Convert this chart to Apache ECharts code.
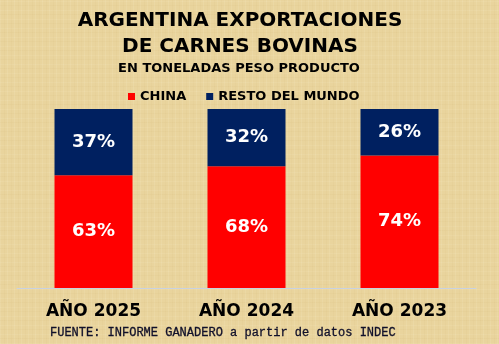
<!DOCTYPE html>
<html>
<head>
<meta charset="utf-8">
<script src="https://cdn.jsdelivr.net/npm/echarts@6/dist/echarts.min.js"></script>
<style>
html,body{margin:0;padding:0;width:499px;height:344px;overflow:hidden;}
body{
  background-color:#e9d49d;
  background-image:
    repeating-linear-gradient(90deg, rgba(255,250,225,0.10) 0 1px, transparent 1px 4px, rgba(170,130,50,0.035) 4px 5px, transparent 5px 7px),
    repeating-linear-gradient(0deg, rgba(255,250,225,0.08) 0 1px, transparent 1px 5px, rgba(170,130,50,0.04) 5px 6px, transparent 6px 9px);
}
#chart{width:499px;height:344px;}
</style>
</head>
<body>
<div id="chart"></div>
<script>
var categories = ["AÑO 2025", "AÑO 2024", "AÑO 2023"];
var china = [63, 68, 74];
var resto = [37, 32, 26];
var seriesNames = ["CHINA", "RESTO DEL MUNDO"];
var titleLines = ["ARGENTINA EXPORTACIONES", "DE CARNES BOVINAS"];
var subtitle = "EN TONELADAS PESO PRODUCTO";
var footer = "FUENTE: INFORME GANADERO a partir de datos INDEC";

var FONT = "DejaVu Sans";
var chart = echarts.init(document.getElementById('chart'), null, {renderer: 'canvas'});
var labelStyle = {
  show: true, position: 'inside', color: '#ffffff',
  fontFamily: FONT, fontWeight: 'bold', fontSize: 18,
  formatter: function (p) { return p.value + '%'; }
};
chart.setOption({
  backgroundColor: 'transparent',
  animation: false,
  graphic: [
    {type: 'text', x: 240, y: 21, style: {text: titleLines[0], fontFamily: FONT, fontWeight: 'bold', fontSize: 20, fill: '#000', align: 'center', verticalAlign: 'middle'}},
    {type: 'text', x: 240, y: 47, style: {text: titleLines[1], fontFamily: FONT, fontWeight: 'bold', fontSize: 20, fill: '#000', align: 'center', verticalAlign: 'middle'}},
    {type: 'text', x: 239, y: 68.5, style: {text: subtitle, fontFamily: FONT, fontWeight: 'bold', fontSize: 13, fill: '#000', align: 'center', verticalAlign: 'middle'}},
    {type: 'text', x: 50, y: 333, style: {text: footer, fontFamily: 'Liberation Mono', fontSize: 12, fill: '#10102a', align: 'left', verticalAlign: 'middle', stroke: '#10102a', lineWidth: 0.3}}
  ],
  legend: {
    left: 123, top: 85,
    itemWidth: 7, itemHeight: 7, itemGap: 20,
    icon: 'rect',
    textStyle: {fontFamily: FONT, fontWeight: 'bold', fontSize: 13, color: '#000'},
    data: seriesNames
  },
  grid: {left: 17, right: 23, top: 109, bottom: 56},
  xAxis: {
    type: 'category', data: categories,
    axisLine: {show: true, lineStyle: {color: '#c8d2e2', width: 1}},
    axisTick: {show: false},
    axisLabel: {margin: 15, fontFamily: FONT, fontWeight: 'bold', fontSize: 17, color: '#000'}
  },
  yAxis: {type: 'value', min: 0, max: 100, show: false, splitLine: {show: false}},
  series: [
    {name: seriesNames[0], type: 'bar', stack: 'total', data: china, barWidth: 78, itemStyle: {color: '#ff0000'}, label: labelStyle},
    {name: seriesNames[1], type: 'bar', stack: 'total', data: resto, barWidth: 78, itemStyle: {color: '#002060'}, label: labelStyle}
  ]
});
</script>
</body>
</html>
